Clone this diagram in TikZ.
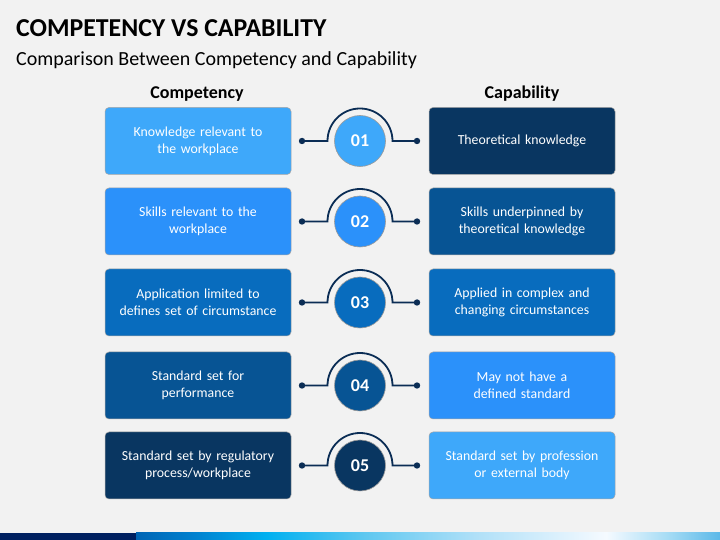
\documentclass[tikz,border=0pt]{standalone}
\usepackage{fontspec}
\setmainfont{Carlito}
\usetikzlibrary{calc}
\definecolor{bg}{RGB}{242,242,242}
\definecolor{ca}{RGB}{62,168,250}
\definecolor{cb}{RGB}{43,145,250}
\definecolor{cc}{RGB}{8,108,190}
\definecolor{cd}{RGB}{7,84,148}
\definecolor{ce}{RGB}{9,54,97}
\definecolor{navy}{RGB}{11,45,85}
\definecolor{bardark}{RGB}{0,32,96}
\definecolor{s1}{RGB}{0,100,180}
\definecolor{s2}{RGB}{0,130,208}
\definecolor{s3}{RGB}{0,176,240}
\definecolor{s4}{RGB}{96,200,240}
\definecolor{s5}{RGB}{176,224,248}
\definecolor{s6}{RGB}{245,250,255}
\definecolor{s7}{RGB}{168,221,245}
\definecolor{s8}{RGB}{91,184,232}
\pgfdeclarehorizontalshading{barshade}{100bp}{color(0bp)=(s1); color(25bp)=(s1); color(30.14bp)=(s2); color(36.13bp)=(s3); color(44.69bp)=(s4); color(54.11bp)=(s5); color(65.24bp)=(s6); color(70.38bp)=(s7); color(75bp)=(s8); color(100bp)=(s8)}
\tikzset{
  box/.style={rectangle, rounded corners=4pt, draw=black!35, line width=0.5pt,
    minimum width=186pt, minimum height=67pt, text width=180pt, align=center,
    text=white, inner sep=0pt, font=\fontsize{13.8}{17}\selectfont},
  num/.style={circle, minimum size=51pt, inner sep=0pt, draw=black!40, line width=0.6pt,
    text=white, font=\fontsize{18}{18}\selectfont\bfseries},
  conn/.style={draw=navy, line width=1.8pt},
  dot/.style={fill=navy},
  hdr/.style={font=\fontsize{18}{18}\selectfont\bfseries, text=black, inner sep=0pt, anchor=base}
}
\begin{document}
\begin{tikzpicture}[x=1pt,y=1pt]
\useasboundingbox (0,0) rectangle (720,540);
\fill[bg] (0,0) rectangle (720,540);
% title
\node[anchor=base west, inner sep=0pt, font=\fontsize{25.8}{25.8}\selectfont\bfseries] (title) at (16,503.5) {COMPETENCY VS CAPABILITY};
\node[anchor=base west, inner sep=0pt, font=\fontsize{20}{20}\selectfont] (sub) at (16,474.5) {Comparison Between Competency and Capability};
\node[hdr] (hl) at (197,441) {Competency};
\node[hdr] (hr) at (522,441) {Capability};
% row 1
\node[box,fill=ca] (L1) at (198,399) {Knowledge relevant to\\the workplace};
\node[box,fill=ce] (R1) at (522,399) {Theoretical knowledge};
\node[num,fill=ca] (C1) at (360,399) {01};
\coordinate (a1) at (302,399); \coordinate (b1) at (417,399);
\draw[conn] (a1) -- ($(C1.center)+(-32.5,0)$) arc[start angle=180,end angle=0,radius=32.5] -- (b1);
\fill[dot] (a1) circle (3.2) (b1) circle (3.2);
% row 2
\node[box,fill=cb] (L2) at (198,318.5) {Skills relevant to the\\workplace};
\node[box,fill=cd] (R2) at (522,318.5) {Skills underpinned by\\theoretical knowledge};
\node[num,fill=cb] (C2) at (360,318.5) {02};
\coordinate (a2) at (302,318.5); \coordinate (b2) at (417,318.5);
\draw[conn] (a2) -- ($(C2.center)+(-32.5,0)$) arc[start angle=180,end angle=0,radius=32.5] -- (b2);
\fill[dot] (a2) circle (3.2) (b2) circle (3.2);
% row 3
\node[box,fill=cc] (L3) at (198,237.5) {Application limited to\\defines set of circumstance};
\node[box,fill=cc] (R3) at (522,237.5) {Applied in complex and\\changing circumstances};
\node[num,fill=cc] (C3) at (360,237.5) {03};
\coordinate (a3) at (302,237.5); \coordinate (b3) at (417,237.5);
\draw[conn] (a3) -- ($(C3.center)+(-32.5,0)$) arc[start angle=180,end angle=0,radius=32.5] -- (b3);
\fill[dot] (a3) circle (3.2) (b3) circle (3.2);
% row 4
\node[box,fill=cd] (L4) at (198,154.5) {Standard set for\\performance};
\node[box,fill=cb] (R4) at (522,154.5) {May not have a\\defined standard};
\node[num,fill=cd] (C4) at (360,154.5) {04};
\coordinate (a4) at (302,154.5); \coordinate (b4) at (417,154.5);
\draw[conn] (a4) -- ($(C4.center)+(-32.5,0)$) arc[start angle=180,end angle=0,radius=32.5] -- (b4);
\fill[dot] (a4) circle (3.2) (b4) circle (3.2);
% row 5
\node[box,fill=ce] (L5) at (198,74.5) {Standard set by regulatory\\process/workplace};
\node[box,fill=ca] (R5) at (522,74.5) {Standard set by profession\\or external body};
\node[num,fill=ce] (C5) at (360,74.5) {05};
\coordinate (a5) at (302,74.5); \coordinate (b5) at (417,74.5);
\draw[conn] (a5) -- ($(C5.center)+(-32.5,0)$) arc[start angle=180,end angle=0,radius=32.5] -- (b5);
\fill[dot] (a5) circle (3.2) (b5) circle (3.2);
% bottom bar
\fill[bardark] (0,0) rectangle (136,7);
\fill[shading=barshade] (136,0) rectangle (720,7);
\end{tikzpicture}
\end{document}
